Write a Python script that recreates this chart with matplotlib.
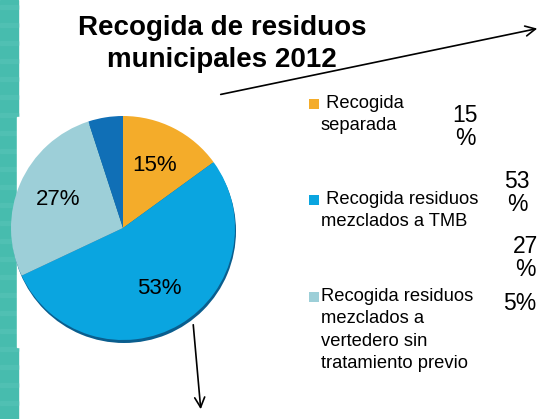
import matplotlib.pyplot as plt
from matplotlib.patches import Rectangle

plt.rcParams['font.family'] = ['Liberation Sans', 'DejaVu Sans']

# data
categories = [' Recogida\nseparada', ' Recogida residuos\nmezclados a TMB',
              'Recogida residuos\nmezclados a\nvertedero sin\ntratamiento previo']
values = [15, 53, 27, 5]
colors = ['#F4AC2A', '#0AA5E0', '#9DCFD8', '#106FB6']
side_labels = ['15\n%', '53\n%', '27\n%', '5%']

W, H = 544, 419
fig = plt.figure(figsize=(W / 100, H / 100), dpi=100)
ax = fig.add_axes([0, 0, 1, 1])


def Y(y):
    # image pixel row -> data y
    return H - y


# left teal band
ax.add_patch(Rectangle((0, 0), 18, H, color='#47BCAE', zorder=0))
for yy in range(0, H, 18):
    ax.add_patch(Rectangle((0, Y(yy + 9)), 18, 4, color='#50C0B3', zorder=0))
ax.add_patch(Rectangle((17, Y(347)), 4, 230, color='white', zorder=0))

# pie with a dark shadow rim
cx, cy, r = 123, 228, 112
ax.pie([1], colors=['#0A5E8E'], radius=r, center=(cx + 1, Y(cy + 3)),
       frame=True, wedgeprops=dict(linewidth=0))
wedges, texts, autotexts = ax.pie(
    values, colors=colors, radius=r, center=(cx, Y(cy)), startangle=90,
    counterclock=False, frame=True, pctdistance=0.63,
    autopct=lambda p: '' if p < 10 else '%d%%' % round(p),
    wedgeprops=dict(linewidth=0),
    textprops=dict(fontsize=16, color='black'))

ax.set_xlim(0, W)
ax.set_ylim(0, H)
ax.set_aspect('auto')
ax.axis('off')

# title
ax.text(222, Y(44), 'Recogida de residuos\nmunicipales 2012', ha='center',
        va='center', fontsize=20, fontweight='bold', linespacing=1.3)

# legend
leg_y = [104, 200, 297]
for cat, col, y in zip(categories, colors, leg_y):
    ax.add_patch(Rectangle((309, Y(y + 5)), 10, 10, color=col, lw=0))
    ax.text(321, Y(y - 9), cat, ha='left', va='top', fontsize=13.2,
            linespacing=1.42)

# percentages beside legend
pos = [(465, 127), (517, 193), (525, 258), (520, 303)]
for lab, (x, y) in zip(side_labels, pos):
    ax.text(x, Y(y), lab, ha='center', va='center', fontsize=16.5,
            linespacing=1.05)

# arrows
ax.annotate('', xy=(540, Y(28)), xytext=(218, Y(95)),
            arrowprops=dict(arrowstyle='->', lw=1.2, color='black',
                            mutation_scale=18))
ax.annotate('', xy=(201, Y(412)), xytext=(193, Y(322)),
            arrowprops=dict(arrowstyle='->', lw=1.2, color='black',
                            mutation_scale=18))

fig.savefig('out.png', dpi=100)
